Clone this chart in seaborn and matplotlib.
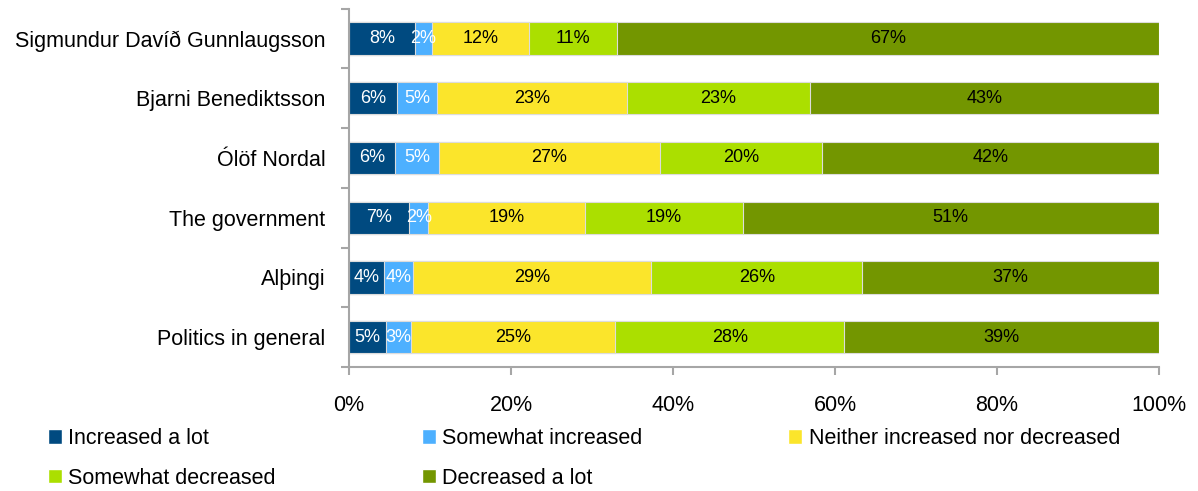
import numpy as np
import pandas as pd
import seaborn as sns
import matplotlib.pyplot as plt
from matplotlib.patches import Patch


people = ["Sigmundur Davíð Gunnlaugsson", "Bjarni Benediktsson", "Ólöf Nordal",
          "The government", "Alþingi", "Politics in general"]
responses = ["Increased a lot", "Somewhat increased", "Neither increased nor decreased",
             "Somewhat decreased", "Decreased a lot"]

# shares in % (labels are the rounded values)
increased_lot = [8.1, 5.9, 5.7, 7.4, 4.3, 4.6]
somewhat_inc = [2.2, 5.0, 5.4, 2.4, 3.6, 3.1]
neither = [11.9, 23.4, 27.3, 19.4, 29.4, 25.2]
somewhat_dec = [10.9, 22.6, 20.0, 19.4, 26.1, 28.2]
decreased_lot = [66.9, 43.1, 41.6, 51.4, 36.6, 38.9]

colors = ["#004a80", "#4db0ff", "#fbe52b", "#abdf00", "#739600"]
label_colors = ["white", "white", "black", "black", "black"]
xticks = [0, 20, 40, 60, 80, 100]

df = pd.DataFrame(dict(zip(responses, [increased_lot, somewhat_inc, neither,
                                       somewhat_dec, decreased_lot])), index=people)
cum = df.cumsum(axis=1)

sns.set_style("ticks")
plt.rcParams['font.family'] = ['Liberation Sans', 'DejaVu Sans']
plt.rcParams['text.color'] = 'black'
plt.rcParams['xtick.labelcolor'] = 'black'
plt.rcParams['ytick.labelcolor'] = 'black'

fig = plt.figure(figsize=(11.98, 4.91), dpi=100)
ax = fig.add_axes([0.2913, 0.2525, 0.6761, 0.73])

# stacked bars: draw the running totals from the longest to the shortest
for resp, col in reversed(list(zip(responses, colors))):
    sns.barplot(x=cum[resp].values, y=people, color=col, saturation=1, width=0.54,
                edgecolor="#dcdcdc", linewidth=0.8, ax=ax)

for i, p in enumerate(people):
    for j, resp in enumerate(responses):
        v = df.loc[p, resp]
        ax.text(cum.loc[p, resp] - v / 2, i, f"{v:.0f}%", ha='center', va='center',
                fontsize=13, color=label_colors[j])

ax.set_xlim(0, 100)
ax.set_ylim(5.5, -0.5)
ax.set_xticks(xticks)
ax.set_xticklabels([f"{t}%" for t in xticks])
ax.set_xlabel("")
ax.set_ylabel("")
sns.despine(ax=ax)
for s in ["left", "bottom"]:
    ax.spines[s].set_color("#a6a6a6")
    ax.spines[s].set_linewidth(1.5)

ax.tick_params(axis='x', length=6, width=1.5, color="#a6a6a6", pad=14, labelsize=15.5)
ax.tick_params(axis='y', which='major', length=0, pad=17, labelsize=15.5)
ax.set_yticks(np.arange(-0.5, len(people), 1), minor=True)
ax.tick_params(axis='y', which='minor', length=6, width=1.5, color="#a6a6a6")

handles = [Patch(facecolor=c, label=r) for r, c in zip(responses, colors)]
order = [0, 3, 1, 4, 2]
fig.legend([handles[k] for k in order], [responses[k] for k in order], ncol=3,
           loc='upper left', bbox_to_anchor=(0.04, 0.128), frameon=False, fontsize=15.5,
           handlelength=0.65, handleheight=0.65, handletextpad=0.28, columnspacing=6.8,
           labelspacing=0.86, borderpad=0, borderaxespad=0)

fig.savefig("out.png", dpi=100)
